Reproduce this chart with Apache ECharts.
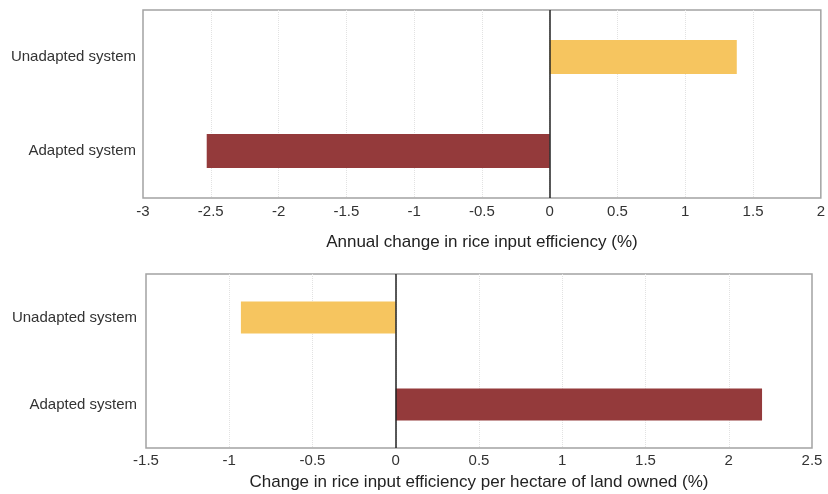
<!DOCTYPE html>
<html>
<head>
<meta charset="utf-8">
<script src="https://cdn.jsdelivr.net/npm/echarts@6/dist/echarts.min.js"></script>
<style>html,body{margin:0;padding:0;background:#fff}#c{width:828px;height:494px}</style>
</head>
<body>
<div id="c"></div>
<script>
const categories = ['Unadapted system', 'Adapted system'];
const annualChange = [1.38, -2.53];
const perHectareChange = [-0.93, 2.20];
const barColors = ['#F6C55F', '#943A3B'];
const topTitle = 'Annual change in rice input efficiency (%)';
const bottomTitle = 'Change in rice input efficiency per hectare of land owned (%)';

const font = 'Liberation Sans, Arial, sans-serif';
const chart = echarts.init(document.getElementById('c'));

function mkData(vals) {
  return vals.map((v, i) => ({ value: v, itemStyle: { color: barColors[i] } }));
}
function xAx(gi, min, max, name, gap, margin) {
  return {
    type: 'value', gridIndex: gi, min: min, max: max, interval: 0.5,
    name: name, nameLocation: 'middle', nameGap: gap,
    nameTextStyle: { color: '#222', fontSize: 17, fontFamily: font },
    axisLine: { show: false }, axisTick: { show: false },
    axisLabel: { color: '#333', fontSize: 15, fontFamily: font, margin: margin },
    splitLine: { show: true, showMinLine: false, showMaxLine: false,
      lineStyle: { color: '#e2e2e2', type: 'dotted', width: 1 } }
  };
}
function yAx(gi, margin) {
  return {
    type: 'category', gridIndex: gi, data: categories, inverse: true,
    axisLine: { show: false }, axisTick: { show: false },
    axisLabel: { color: '#333', fontSize: 15, fontFamily: font, margin: margin },
    splitLine: { show: false }
  };
}
function barSeries(idx, vals, bw) {
  return {
    type: 'bar', xAxisIndex: idx, yAxisIndex: idx, data: mkData(vals),
    barWidth: bw, silent: true,
    markLine: {
      silent: true, symbol: 'none', label: { show: false },
      lineStyle: { color: '#222', type: 'solid', width: 1.5 },
      data: [{ xAxis: 0 }]
    }
  };
}

chart.setOption({
  animation: false,
  backgroundColor: '#fff',
  grid: [
    { left: 143, top: 10, width: 680, height: 188, show: true, borderColor: '#a3a3a3', borderWidth: 1.5, backgroundColor: 'transparent' },
    { left: 146, top: 274, width: 666, height: 174, show: true, borderColor: '#a3a3a3', borderWidth: 1.5, backgroundColor: 'transparent' }
  ],
  xAxis: [
    xAx(0, -3, 2, topTitle, 36, 6),
    xAx(1, -1.5, 2.5, bottomTitle, 26, 5)
  ],
  yAxis: [yAx(0, 7), yAx(1, 9)],
  series: [
    barSeries(0, annualChange, '36%'),
    barSeries(1, perHectareChange, '37%')
  ]
});
</script>
</body>
</html>
